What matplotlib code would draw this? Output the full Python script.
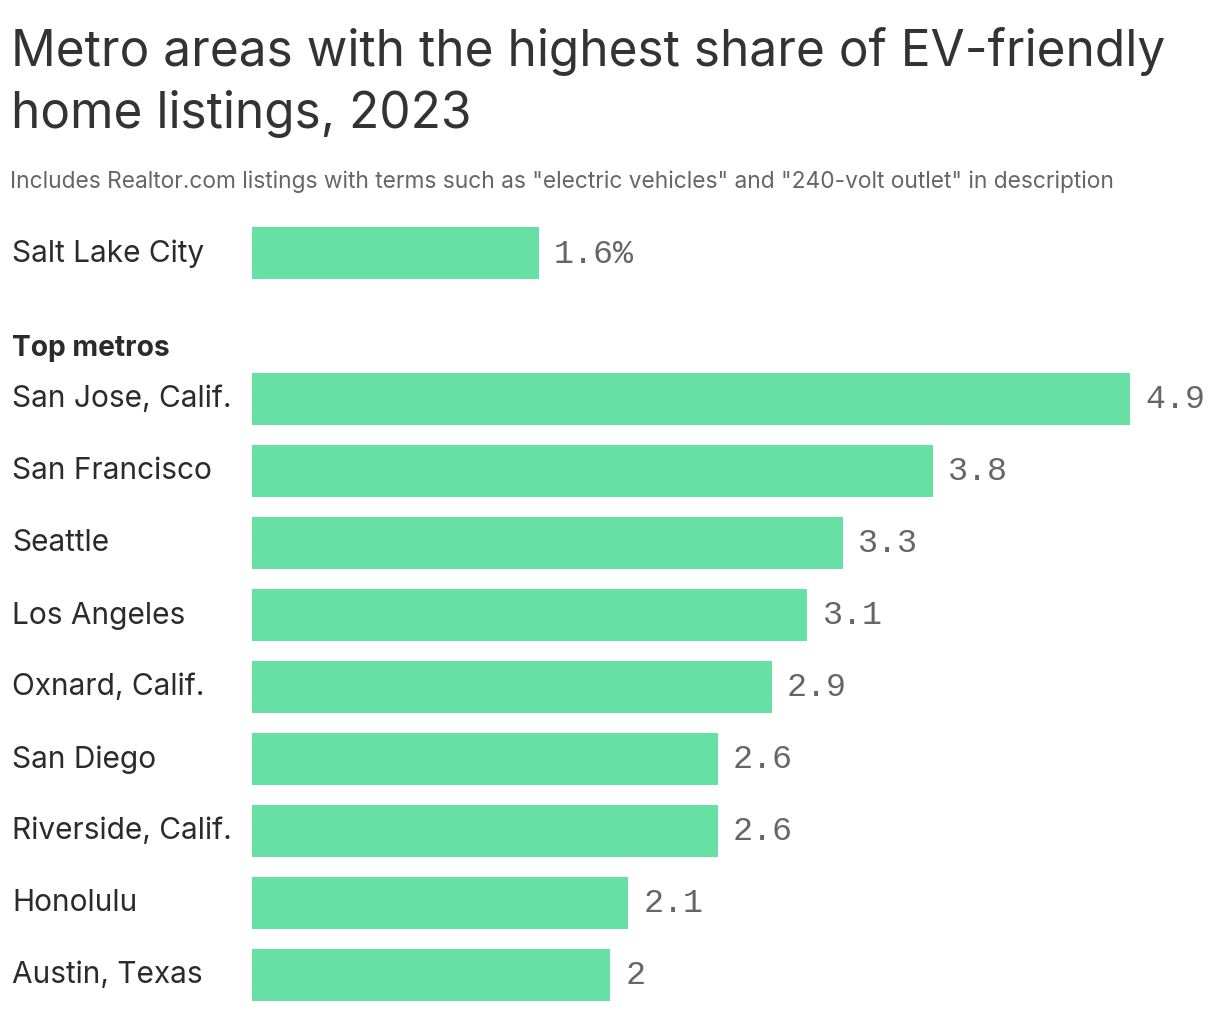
import matplotlib
matplotlib.use("Agg")
import matplotlib.pyplot as plt

categories = ["Salt Lake City", "San Jose, Calif.", "San Francisco", "Seattle", "Los Angeles",
              "Oxnard, Calif.", "San Diego", "Riverside, Calif.", "Honolulu", "Austin, Texas"]
values = [1.6, 4.9, 3.8, 3.3, 3.1, 2.9, 2.6, 2.6, 2.1, 2.0]
value_labels = ["1.6%", "4.9", "3.8", "3.3", "3.1", "2.9", "2.6", "2.6", "2.1", "2"]
title = "Metro areas with the highest share of EV-friendly\nhome listings, 2023"
subtitle = 'Includes Realtor.com listings with terms such as "electric vehicles" and "240-volt outlet" in description'
group_label = "Top metros"

W, H = 1220, 1012
fig = plt.figure(figsize=(W / 100, H / 100), dpi=100)
fig.patch.set_facecolor("white")

def fx(x): return x / W
def fy(y): return 1 - y / H

# axes: x from px 252 to 1130 maps 0..4.9 ; y: pixel = 399.5 + 72*ypos
x0, x1 = 252, 1130
ytop_px, ybot_px = 200, 1012
ax = fig.add_axes([fx(x0), fy(ybot_px), (x1 - x0) / W, (ybot_px - ytop_px) / H])
ax.set_xlim(0, 4.9)
ax.set_ylim((ybot_px - 399.5) / 72, (ytop_px - 399.5) / 72)
ax.axis("off")

ypos = [-2.02] + list(range(len(values) - 1))
color = "#66e0a3"
ax.barh(ypos, values, height=52 / 72, color=color, clip_on=False)

for y, v, lab, cat in zip(ypos, values, value_labels, categories):
    ax.annotate(lab, xy=(v, y), xytext=(15, 0), textcoords="offset pixels",
                va="center", ha="left", family="Liberation Mono", fontsize=24,
                color="#666666", annotation_clip=False)
    ypix = 399.5 + 72 * y
    fig.text(fx(12), fy(ypix), cat, va="center", ha="left", family="Inter",
             fontsize=21.5, color="#2b2b2b")

fig.text(fx(11), fy(66), title.split("\n")[0], va="baseline", ha="left", family="Inter",
         fontsize=35.7, color="#333333")
fig.text(fx(11), fy(128), title.split("\n")[1], va="baseline", ha="left", family="Inter",
         fontsize=35.7, color="#333333")
fig.text(fx(10), fy(188), subtitle, va="baseline", ha="left", family="Inter",
         fontsize=16.4, color="#666666")
fig.text(fx(12), fy(356), group_label, va="baseline", ha="left", family="Inter",
         fontsize=20.3, fontweight="bold", color="#2b2b2b")

fig.savefig("out.png", dpi=100, facecolor="white")
